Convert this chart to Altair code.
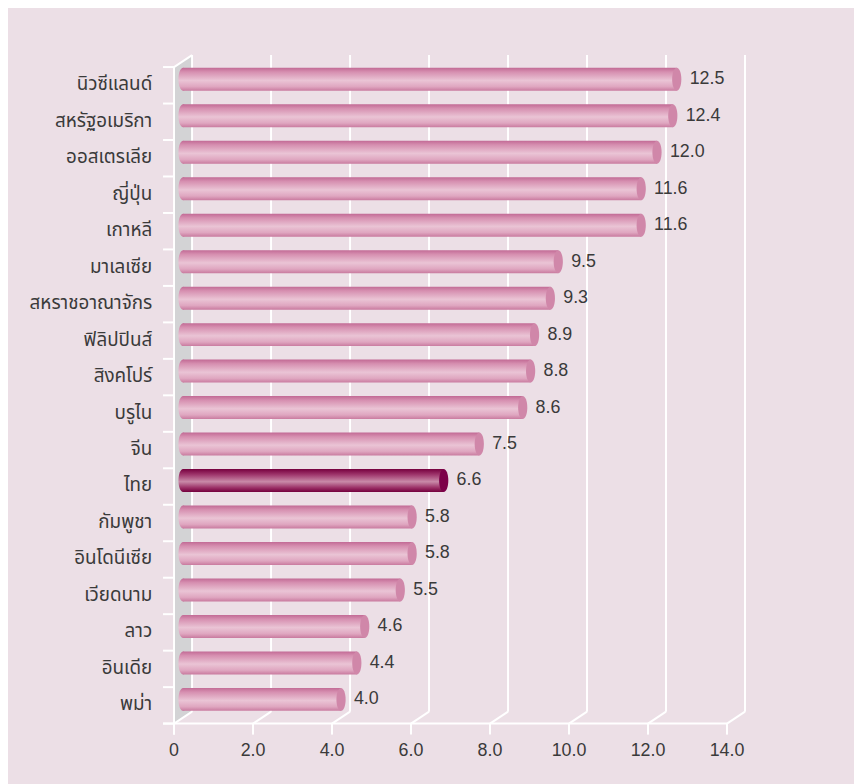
import altair as alt
import pandas as pd

# ---------------- data ----------------
countries = ["นิวซีแลนด์", "สหรัฐอเมริกา", "ออสเตรเลีย", "ญี่ปุ่น", "เกาหลี", "มาเลเซีย",
             "สหราชอาณาจักร", "ฟิลิปปินส์", "สิงคโปร์", "บรูไน", "จีน", "ไทย",
             "กัมพูชา", "อินโดนีเซีย", "เวียดนาม", "ลาว", "อินเดีย", "พม่า"]
values = [12.5, 12.4, 12.0, 11.6, 11.6, 9.5, 9.3, 8.9, 8.8, 8.6, 7.5, 6.6,
          5.8, 5.8, 5.5, 4.6, 4.4, 4.0]
highlight = "ไทย"
x_ticks = [0, 2, 4, 6, 8, 10, 12, 14]
x_tick_labels = ["0", "2.0", "4.0", "6.0", "8.0", "10.0", "12.0", "14.0"]

# ---------------- layout ----------------
W, H = 854, 776
PX = 39.87         # pixels per x unit
X0 = 167.6         # chart px of front zero
ROW = 36.82        # pixels per row
Y0 = 55.95         # chart px of first row boundary
DXu = 18.2 / PX    # depth offset (x)
DYr = -12.1 / ROW  # depth offset (y)
TICKX = 11.1 / PX
TICKY = 11.1 / ROW
BH = 23.2 / ROW
n = len(countries)

xs = alt.Scale(domain=[-X0 / PX, (W - X0) / PX], nice=False, zero=False)
ys = alt.Scale(domain=[-Y0 / ROW, (H - Y0) / ROW], nice=False, zero=False, reverse=True)

FONT = "Noto Sans Thai, Noto Sans, sans-serif"
NFONT = "Liberation Sans, Arial, sans-serif"
TXT = "#3a3a3a"
BG = "#ecdfe6"

# ---------------- frame segments ----------------
segs = [(0, 0, 0, n + TICKY), (0, 0, DXu, DYr), (-TICKX, n, max(x_ticks), n)]
for k in range(n + 1):
    segs.append((-TICKX, k, 0, k))
for t in x_ticks:
    segs.append((t, n, t, n + TICKY))
    segs.append((t, n, t + DXu, n + DYr))
    segs.append((t + DXu, n + DYr, t + DXu, DYr))
seg_df = pd.DataFrame(segs, columns=["x", "y", "x2", "y2"])

wall_df = pd.DataFrame({"x": [0, DXu], "y": [0, DYr], "y2": [n, n + DYr]})

rows = []
for i, (c, v) in enumerate(zip(countries, values)):
    cy = i + 0.5 + DYr / 2
    rows.append({"country": c, "value": v, "label": f"{v:.1f}",
                 "cy": cy, "yt": cy - BH / 2, "yb": cy + BH / 2,
                 "xs": DXu / 2, "xe": v + DXu / 2,
                 "ly": i + 0.5, "hl": c == highlight})
bars = pd.DataFrame(rows)
tick_df = pd.DataFrame({"x": x_ticks, "label": x_tick_labels, "y": [n] * len(x_ticks)})

X = lambda f: alt.X(f, type="quantitative", scale=xs, axis=None)
Y = lambda f: alt.Y(f, type="quantitative", scale=ys, axis=None)

pink_grad = alt.Gradient(gradient="linear", x1=0, x2=0, y1=0, y2=1, stops=[
    alt.GradientStop(offset=0, color="#c26a95"),
    alt.GradientStop(offset=0.18, color="#d68fb0"),
    alt.GradientStop(offset=0.55, color="#eac4d5"),
    alt.GradientStop(offset=0.82, color="#dfa6c0"),
    alt.GradientStop(offset=1, color="#c97a9f")])
dark_grad = alt.Gradient(gradient="linear", x1=0, x2=0, y1=0, y2=1, stops=[
    alt.GradientStop(offset=0, color="#76003e"),
    alt.GradientStop(offset=0.25, color="#a0386e"),
    alt.GradientStop(offset=0.55, color="#c98aa8"),
    alt.GradientStop(offset=0.82, color="#9a2e65"),
    alt.GradientStop(offset=1, color="#74003d")])

ELL = "M -0.4,0 A 0.4,1 0 1,1 0.4,0 A 0.4,1 0 1,1 -0.4,0 Z"
SZ = 23.2 * 23.2

base_bars = alt.Chart(bars)
normal = base_bars.transform_filter("!datum.hl")
hlb = base_bars.transform_filter("datum.hl")

wall = alt.Chart(wall_df).mark_area(color="#d3d3d5", opacity=1).encode(
    x=X("x"), y=Y("y"), y2="y2")
rules = alt.Chart(seg_df).mark_rule(color="white", strokeWidth=2).encode(
    x=X("x"), y=Y("y"), x2="x2", y2="y2")

body_n = normal.mark_bar(fill=pink_grad).encode(x=X("xs"), x2="xe", y=Y("yt"), y2="yb")
body_h = hlb.mark_bar(fill=dark_grad).encode(x=X("xs"), x2="xe", y=Y("yt"), y2="yb")
lend_n = normal.mark_point(shape=ELL, size=SZ, filled=True, fill=pink_grad, opacity=1,
                           strokeWidth=0).encode(x=X("xs"), y=Y("cy"))
lend_h = hlb.mark_point(shape=ELL, size=SZ, filled=True, fill=dark_grad, opacity=1,
                        strokeWidth=0).encode(x=X("xs"), y=Y("cy"))
cap_n = normal.mark_point(shape=ELL, size=SZ, filled=True, fill="#d087a9", opacity=1,
                          strokeWidth=0).encode(x=X("xe"), y=Y("cy"))
cap_h = hlb.mark_point(shape=ELL, size=SZ, filled=True, fill="#7d0049", opacity=1,
                       strokeWidth=0).encode(x=X("xe"), y=Y("cy"))

vlabels = base_bars.mark_text(align="left", baseline="middle", dx=13, fontSize=18,
                              font=NFONT, color=TXT).encode(
    x=X("xe"), y=Y("cy"), text="label:N")
clabels = base_bars.mark_text(align="right", baseline="alphabetic", dx=-22, dy=5,
                              fontSize=19, font=FONT, color=TXT).encode(
    x=alt.value(X0), y=Y("ly"), text="country:N")
tlabels = alt.Chart(tick_df).mark_text(align="center", baseline="middle", dy=28,
                                       fontSize=18, font=NFONT, color=TXT).encode(
    x=X("x"), y=Y("y"), text="label:N")

chart = alt.layer(wall, rules, body_n, body_h, lend_n, lend_h, cap_n, cap_h,
                  vlabels, clabels, tlabels).properties(
    width=W, height=H, autosize=alt.AutoSizeParams(type="none"), padding=0
).configure(background=BG).configure_view(strokeWidth=0, fill=BG)

chart.save("out.html", embed_options={"renderer": "svg", "actions": False})
